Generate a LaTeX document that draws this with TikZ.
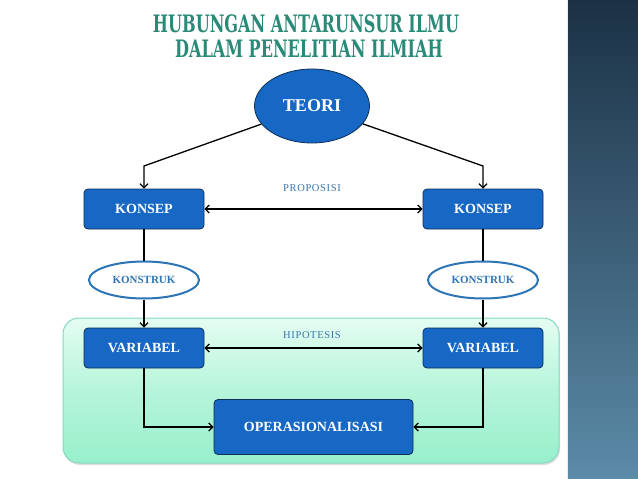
\documentclass[tikz,border=0pt]{standalone}
\usepackage{fontspec}
\setmainfont{Liberation Serif}
\newfontfamily\titlefont{DejaVu Serif}
\newfontfamily\spacedfont[LetterSpace=6]{Liberation Serif}
\usetikzlibrary{arrows.meta,shapes.geometric,shadows}
\definecolor{boxblue}{HTML}{1668C4}
\definecolor{boxedge}{HTML}{0E2F57}
\definecolor{ringblue}{HTML}{2E75B6}
\definecolor{labelblue}{HTML}{3A74AA}
\definecolor{titlegreen}{HTML}{2A8A78}
\definecolor{panelline}{HTML}{86D8C4}
\definecolor{bartop}{HTML}{1B3145}
\definecolor{barbottom}{HTML}{5C8BA8}
\definecolor{mintA}{HTML}{E4FDF2}
\definecolor{mintB}{HTML}{B6F5DA}
\definecolor{mintC}{HTML}{98EFCB}
\tikzset{
 conn/.style={line width=1.3pt,black},
 tip/.style={-{Straight Barb[length=4pt,width=8pt]}},
 bothtips/.style={{Straight Barb[length=4pt,width=8pt]}-{Straight Barb[length=4pt,width=8pt]}},
 bluebox/.style={rectangle,rounded corners=4pt,draw=boxedge,line width=.8pt,fill=boxblue,text=white,font=\fontsize{14}{16}\selectfont\bfseries,minimum width=120pt,minimum height=40pt,inner sep=0},
 theorynode/.style={ellipse,draw=boxedge,line width=.8pt,fill=boxblue,text=white,font=\fontsize{18}{20}\selectfont\bfseries,minimum width=115pt,minimum height=74pt,inner sep=0},
 construct/.style={ellipse,draw=ringblue,line width=2pt,fill=white,text=ringblue,font=\fontsize{11}{13}\selectfont\bfseries,minimum width=110pt,minimum height=37pt,inner sep=0},
 linklabel/.style={text=labelblue,font=\fontsize{10.5}{12}\spacedfont},
 headline/.style={text=titlegreen,font=\fontsize{24}{26}\titlefont\bfseries,xscale=.67,transform shape},
 greenpanel/.style={rounded corners=16pt,draw=panelline,line width=1pt,top color=mintA,bottom color=mintC,middle color=mintB,drop shadow={shadow xshift=1pt,shadow yshift=-2pt,opacity=.25}}
}
\begin{document}
\begin{tikzpicture}[x=1pt,y=-1pt]
\path[use as bounding box,fill=white] (0,0) rectangle (638,479);
\shade[top color=bartop,bottom color=barbottom] (568,0) rectangle (638,479);
\draw[white!85!gray,line width=1pt] (567.5,0) -- (567.5,479);
\node[headline] (title1) at (306,24) {HUBUNGAN ANTARUNSUR ILMU};
\node[headline] (title2) at (309,49) {DALAM PENELITIAN ILMIAH};
\path[greenpanel] (63,318) rectangle (559,463);
% nodes
\node[theorynode] (teori) at (312,106) {TEORI};
\node[bluebox] (konsepL) at (144,209) {KONSEP};
\node[bluebox] (konsepR) at (483,209) {KONSEP};
\node[construct] (konstrukL) at (144,280) {KONSTRUK};
\node[construct] (konstrukR) at (483,280) {KONSTRUK};
\node[bluebox] (variabelL) at (144,348) {VARIABEL};
\node[bluebox] (variabelR) at (483,348) {VARIABEL};
\node[bluebox,minimum width=199pt,minimum height=55pt] (oper) at (313.5,427) {OPERASIONALISASI};
\node[linklabel] (proposisi) at (312,188) {PROPOSISI};
\node[linklabel] (hipotesis) at (312,335) {HIPOTESIS};
\coordinate (bendL) at (144,166);
\coordinate (bendR) at (483,166);
% connectors
\draw[conn,tip] (teori) -- (bendL) -- (konsepL);
\draw[conn,tip] (teori) -- (bendR) -- (konsepR);
\draw[conn,bothtips] (konsepL) -- (konsepR);
\draw[conn] (konsepL) -- (konstrukL);
\draw[conn] (konsepR) -- (konstrukR);
\draw[conn,tip] (konstrukL) -- (variabelL);
\draw[conn,tip] (konstrukR) -- (variabelR);
\draw[conn,bothtips] (variabelL) -- (variabelR);
\draw[conn,tip] (variabelL) |- (oper);
\draw[conn,tip] (variabelR) |- (oper);
\end{tikzpicture}
\end{document}
